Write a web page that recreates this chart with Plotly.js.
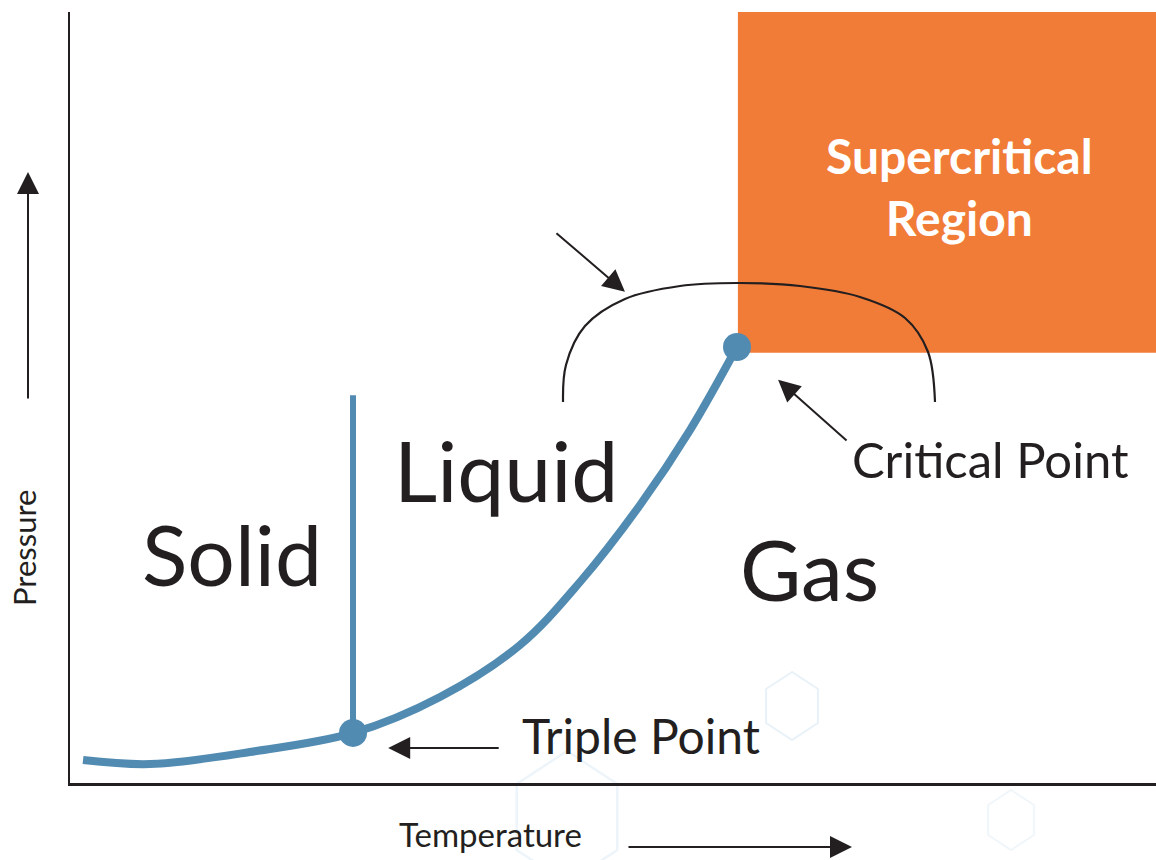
<!DOCTYPE html>
<html>
<head>
<meta charset="utf-8">
<script src="https://cdn.plot.ly/plotly-3.0.1.min.js"></script>
<style>html,body{margin:0;padding:0;background:#fff;}#chart{width:1156px;height:860px;}</style>
</head>
<body>
<div id="chart"></div>
<script>
// Phase boundary (sublimation + vaporization curve), temperature vs pressure (relative units)
var curveT = [1.2, 7.37, 16.57, 26.06, 34.07, 41.44, 46.96, 52.49, 57.09, 61.42];
var curveP = [2.98, 2.46, 4.02, 6.49, 11.15, 17.9, 26.07, 36.06, 45.78, 56.55];
// Melting (fusion) line
var fusionT = [26.06, 26.06];
var fusionP = [6.49, 50.3];
// Special points
var pointNames = ["Triple Point", "Critical Point"];
var pointT = [26.06, 61.42];
var pointP = [6.49, 56.55];
// Supercritical region bounds
var superT = [61.5, 100, 100, 61.5, 61.5];
var superP = [55.8, 55.8, 100, 100, 55.8];
// Bracket arc around the critical point
var arcT = [45.4, 45.67, 47.42, 51.1, 56.17, 61.42, 67.22, 72.74, 76.89, 79.01, 79.65];
var arcP = [49.42, 54.22, 59.27, 62.78, 64.46, 64.85, 64.46, 63.04, 60.31, 55.9, 49.42];
// Region labels
var regionNames = ["Solid", "Liquid", "Gas"];
var regionT = [14.9, 40.15, 68.05];
var regionP = [29.8, 40.6, 27.8];

var blue = "#528bb2";
var orange = "#f17c38";
var ink = "#231f20";
var FONT = "Lato, 'Open Sans', sans-serif";

var traces = [
  {x: superT, y: superP, mode: "lines", fill: "toself", fillcolor: orange, line: {width: 0, color: orange}, hoverinfo: "skip", showlegend: false},
  {x: arcT, y: arcP, mode: "lines", line: {color: ink, width: 2.2, shape: "spline", smoothing: 1}, hoverinfo: "skip", showlegend: false},
  {x: curveT, y: curveP, mode: "lines", line: {color: blue, width: 8, shape: "spline", smoothing: 1}, hoverinfo: "skip", showlegend: false},
  {x: fusionT, y: fusionP, mode: "lines", line: {color: blue, width: 6}, hoverinfo: "skip", showlegend: false},
  {x: pointT, y: pointP, text: pointNames, mode: "markers", marker: {color: blue, size: 28}, hoverinfo: "text", showlegend: false, cliponaxis: false}
];

// helpers: pixel -> paper
var L = 70, R = 1156, T0 = 12, B = 783;
function px(x){ return (x - L) / (R - L); }
function py(y){ return (B - y) / (B - T0); }
function hex(cx, cy, r){
  var pts = [];
  for (var i = 0; i < 6; i++) {
    var a = Math.PI / 2 + i * Math.PI / 3;
    pts.push(px(cx + r * Math.cos(a) * 0.88) + "," + py(cy - r * Math.sin(a)));
  }
  return "M" + pts.join("L") + "Z";
}

var shapes = [
  {type: "path", xref: "paper", yref: "paper", path: hex(792, 706, 34), line: {color: "#e9f2f8", width: 2}, layer: "below"},
  {type: "path", xref: "paper", yref: "paper", path: hex(567, 817, 66), line: {color: "#eef5fa", width: 2.5}, layer: "below"},
  {type: "path", xref: "paper", yref: "paper", path: hex(1011, 820, 30), line: {color: "#f1f6fa", width: 2}, layer: "below"}
];

var annotations = [];
for (var i = 0; i < regionNames.length; i++) {
  annotations.push({x: regionT[i], y: regionP[i], xref: "x", yref: "y", text: regionNames[i], showarrow: false,
    font: {family: FONT, size: 84, color: ink}, xanchor: "center", yanchor: "middle"});
}
annotations.push({x: 81.86, y: 77.4, xref: "x", yref: "y", text: "<b>Supercritical</b><br><b>Region</b>", showarrow: false,
  font: {family: FONT, size: 48, color: "#ffffff"}, xanchor: "center", yanchor: "middle"});
annotations.push({x: 84.8, y: 42.0, xref: "x", yref: "y", text: "Critical Point", showarrow: false,
  font: {family: FONT, size: 49, color: ink}, xanchor: "center", yanchor: "middle"});
annotations.push({x: 52.6, y: 6.1, xref: "x", yref: "y", text: "Triple Point", showarrow: false,
  font: {family: FONT, size: 48, color: ink}, xanchor: "center", yanchor: "middle"});
// pointer arrows
annotations.push({x: 29.3, y: 4.55, xref: "x", yref: "y", ax: 112, ay: 0, text: "", showarrow: true,
  arrowhead: 2, arrowsize: 2.2, arrowwidth: 2, arrowcolor: ink});
annotations.push({x: 65.2, y: 52.3, xref: "x", yref: "y", ax: 70, ay: 62, text: "", showarrow: true,
  arrowhead: 2, arrowsize: 2.2, arrowwidth: 2, arrowcolor: ink});
annotations.push({x: 51.1, y: 63.7, xref: "x", yref: "y", ax: -70, ay: -60, text: "", showarrow: true,
  arrowhead: 2, arrowsize: 2.2, arrowwidth: 2, arrowcolor: ink});
// axis direction arrows
annotations.push({x: px(28), y: py(172), xref: "paper", yref: "paper", ax: 0, ay: 228, text: "", showarrow: true,
  arrowhead: 2, arrowsize: 2.2, arrowwidth: 2, arrowcolor: ink});
annotations.push({x: px(852), y: py(847), xref: "paper", yref: "paper", ax: -225, ay: 0, text: "", showarrow: true,
  arrowhead: 2, arrowsize: 2.2, arrowwidth: 2, arrowcolor: ink});
// axis labels
annotations.push({x: px(24), y: py(548), xref: "paper", yref: "paper", text: "Pressure", showarrow: false, textangle: -90,
  font: {family: FONT, size: 31, color: ink}, xanchor: "center", yanchor: "middle"});
annotations.push({x: px(490), y: py(834), xref: "paper", yref: "paper", text: "Temperature", showarrow: false,
  font: {family: FONT, size: 33, color: ink}, xanchor: "center", yanchor: "middle"});

var layout = {
  width: 1156, height: 860,
  margin: {l: L, r: 1156 - R, t: T0, b: 860 - B, pad: 0},
  paper_bgcolor: "#ffffff", plot_bgcolor: "#ffffff",
  xaxis: {range: [0, 100], showgrid: false, zeroline: false, showticklabels: false, ticks: "", showline: true, linecolor: ink, linewidth: 2.5, fixedrange: true},
  yaxis: {range: [0, 100], showgrid: false, zeroline: false, showticklabels: false, ticks: "", showline: true, linecolor: ink, linewidth: 2.5, fixedrange: true},
  shapes: shapes,
  annotations: annotations,
  showlegend: false
};

Plotly.newPlot("chart", traces, layout, {displayModeBar: false, staticPlot: true});
</script>
</body>
</html>
